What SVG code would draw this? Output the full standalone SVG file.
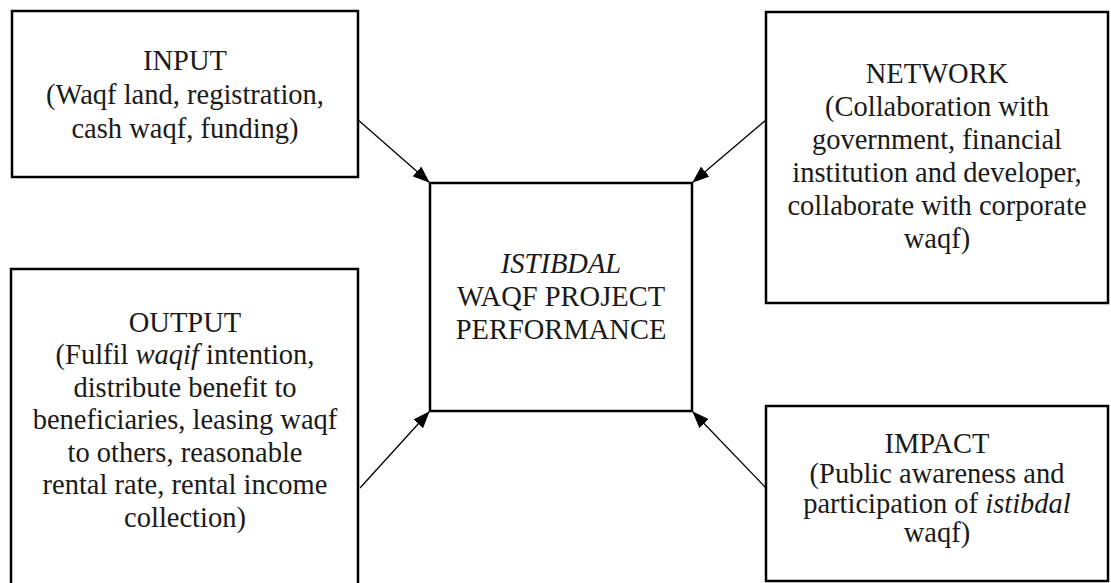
<svg xmlns="http://www.w3.org/2000/svg" width="1111" height="583" viewBox="0 0 1111 583">
<style>
.box{fill:#fff;stroke:#000;stroke-width:2.5}
.t{font-family:"Liberation Serif","Times New Roman",serif;font-size:28.5px;fill:#1a1a1a;text-anchor:middle}
.i{font-style:italic}
.c{stroke:#000;stroke-width:1.3;fill:none;marker-end:url(#ah)}
</style>
<defs>
<marker id="ah" viewBox="0 0 17 13" refX="16" refY="6.5" markerWidth="17" markerHeight="13" markerUnits="userSpaceOnUse" orient="auto">
<path d="M0,0 L17,6.5 L0,13 Z" fill="#000"/>
</marker>
</defs>
<rect width="1111" height="583" fill="#fff"/>
<g id="input">
<rect class="box" x="12" y="11" width="346" height="166"/>
<text class="t" x="185" y="70">INPUT</text>
<text class="t" x="185" y="104">(Waqf land, registration,</text>
<text class="t" x="185" y="138">cash waqf, funding)</text>
</g>
<g id="network">
<rect class="box" x="766" y="12" width="342" height="291"/>
<text class="t" x="937" y="83">NETWORK</text>
<text class="t" x="937" y="116">(Collaboration with</text>
<text class="t" x="937" y="149">government, financial</text>
<text class="t" x="937" y="182">institution and developer,</text>
<text class="t" x="937" y="215">collaborate with corporate</text>
<text class="t" x="937" y="248">waqf)</text>
</g>
<g id="output">
<rect class="box" x="11" y="269" width="347" height="320"/>
<text class="t" x="185" y="332">OUTPUT</text>
<text class="t" x="185" y="364">(Fulfil <tspan class="i">waqif</tspan> intention,</text>
<text class="t" x="185" y="397">distribute benefit to</text>
<text class="t" x="185" y="429">beneficiaries, leasing waqf</text>
<text class="t" x="185" y="462">to others, reasonable</text>
<text class="t" x="185" y="494">rental rate, rental income</text>
<text class="t" x="185" y="527">collection)</text>
</g>
<g id="impact">
<rect class="box" x="766" y="406" width="342" height="175"/>
<text class="t" x="937" y="453">IMPACT</text>
<text class="t" x="937" y="483">(Public awareness and</text>
<text class="t" x="937" y="513">participation of <tspan class="i">istibdal</tspan></text>
<text class="t" x="937" y="542">waqf)</text>
</g>
<g id="center">
<rect class="box" x="430" y="183" width="262" height="228"/>
<text class="t i" x="561" y="273">ISTIBDAL</text>
<text class="t" x="561" y="306">WAQF PROJECT</text>
<text class="t" x="561" y="339">PERFORMANCE</text>
</g>
<g id="connectors">
<line class="c" x1="357" y1="119" x2="429" y2="182"/>
<line class="c" x1="766" y1="120" x2="693" y2="182"/>
<line class="c" x1="360" y1="488" x2="429" y2="412"/>
<line class="c" x1="766" y1="488" x2="693" y2="412"/>
</g>
</svg>
